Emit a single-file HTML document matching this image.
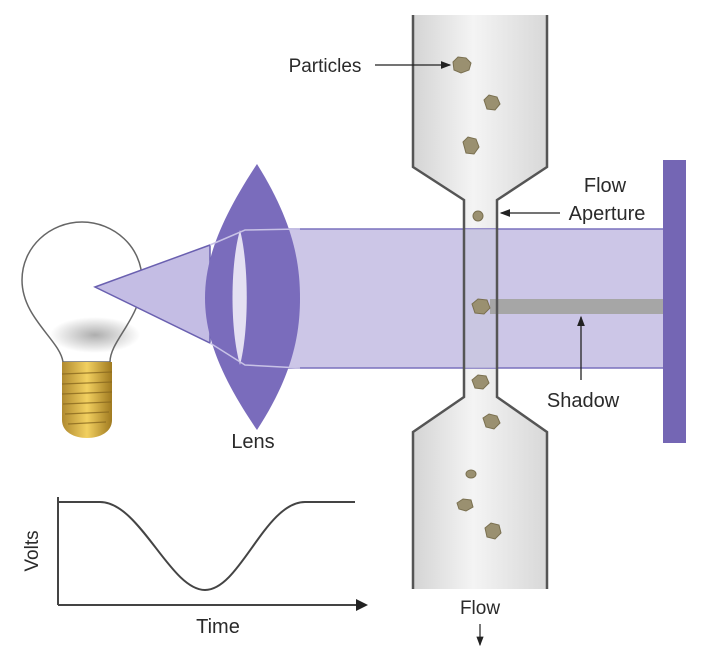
<!DOCTYPE html>
<html><head><meta charset="utf-8"><style>
html,body{margin:0;padding:0;background:#fff;}
svg{display:block;}
text{font-family:"Liberation Sans Narrow","Liberation Sans",sans-serif;fill:#2a2a2a;}
</style></head><body>
<svg width="710" height="650" viewBox="0 0 710 650" xmlns="http://www.w3.org/2000/svg">
<defs>
<linearGradient id="tube" x1="0" x2="1" y1="0" y2="0">
<stop offset="0" stop-color="#d4d4d4"/><stop offset="0.45" stop-color="#f4f4f4"/><stop offset="1" stop-color="#d8d8d8"/>
</linearGradient>
<linearGradient id="base" x1="0" x2="1"><stop offset="0" stop-color="#b08a30"/><stop offset="0.5" stop-color="#f2d060"/><stop offset="1" stop-color="#a07a20"/></linearGradient>
<radialGradient id="sh" cx="0.5" cy="0.5" r="0.5"><stop offset="0" stop-color="#999" stop-opacity="0.8"/><stop offset="1" stop-color="#999" stop-opacity="0"/></radialGradient>
<marker id="ar" markerWidth="8" markerHeight="8" refX="7" refY="4" orient="auto"><path d="M0,1 L8,4 L0,7 z" fill="#222"/></marker>
</defs>

<path d="M413,15 L413,167 L464,200 L464,397 L413,432 L413,589 L547,589 L547,432 L497,397 L497,200 L547,167 L547,15 Z" fill="url(#tube)"/>
<rect x="245" y="229" width="420" height="139" fill="#c9c3e6" opacity="0.95"/>
<line x1="245" y1="229" x2="665" y2="229" stroke="#7a70bd" stroke-width="1.5"/>
<line x1="245" y1="368" x2="665" y2="368" stroke="#7a70bd" stroke-width="1.5"/>
<rect x="464" y="229" width="33" height="139" fill="#c8c6de" opacity="0.7"/>
<rect x="490" y="299" width="175" height="15" fill="#a6a6a6"/>
<path d="M413,15 L413,167 L464,200 L464,397 L413,432 L413,589" fill="none" stroke="#555" stroke-width="2.5"/>
<path d="M547,15 L547,167 L497,200 L497,397 L547,432 L547,589" fill="none" stroke="#555" stroke-width="2.5"/>
<rect x="663" y="160" width="23" height="283" fill="#7466b4"/>

<g fill="#9a9070" stroke="#7a7050" stroke-width="1">
<path d="M453,62 L458,57 L466,58 L471,63 L469,70 L461,73 L454,70 Z"/>
<path d="M484,100 L489,95 L497,97 L500,104 L495,110 L487,109 Z"/>
<path d="M463,142 L468,137 L476,139 L479,147 L474,154 L466,153 Z"/>
<ellipse cx="478" cy="216" rx="5" ry="5"/>
<path d="M472,304 L478,299 L487,300 L490,308 L484,314 L475,313 Z"/>
<path d="M472,380 L478,375 L486,376 L489,383 L483,389 L475,388 Z"/>
<path d="M483,418 L489,414 L497,416 L500,423 L494,429 L486,427 Z"/>
<ellipse cx="471" cy="474" rx="5" ry="4"/>
<path d="M457,503 L463,499 L471,500 L473,507 L466,511 L459,509 Z"/>
<path d="M485,528 L491,523 L499,525 L501,533 L495,539 L487,537 Z"/>
</g>

<ellipse cx="95" cy="335" rx="45" ry="18" fill="url(#sh)"/>
<path d="M63,362 C60,340 22,318 22,280 C22,247 50,222 82,222 C114,222 142,247 142,280 C142,318 110,340 110,362 Z" fill="none" stroke="#666" stroke-width="1.5"/>
<path d="M62,362 L112,362 L112,420 C112,432 100,438 87,438 C74,438 62,432 62,420 Z" fill="url(#base)"/>
<g stroke="#8a6a20" stroke-width="1.2" opacity="0.8">
<line x1="62" y1="374" x2="112" y2="372"/><line x1="62" y1="384" x2="112" y2="382"/><line x1="62" y1="394" x2="112" y2="392"/><line x1="63" y1="404" x2="111" y2="402"/><line x1="65" y1="414" x2="109" y2="412"/><line x1="68" y1="424" x2="106" y2="422"/>
</g>
<path d="M95,287 L210,245 L210,343 Z" fill="#c4bde4" stroke="#6a60b0" stroke-width="1.5"/>
<path d="M257,164 C220,220 205,260 205,298 C205,336 220,376 257,430 C292,376 300,336 300,298 C300,260 292,220 257,164 Z" fill="#7a6cbc"/>
<path d="M240,230 C230,265 230,330 240,365 C249,330 249,265 240,230 Z" fill="#e4e0f2"/>
<path d="M210,245 L245,230 L300,229" fill="none" stroke="#c8c2e6" stroke-width="1.5"/>
<path d="M210,343 L245,365 L300,368" fill="none" stroke="#c8c2e6" stroke-width="1.5"/>

<line x1="58" y1="497" x2="58" y2="605" stroke="#444" stroke-width="2"/>
<line x1="58" y1="605" x2="358" y2="605" stroke="#444" stroke-width="2"/>
<path d="M356,599 L368,605 L356,611 Z" fill="#222"/>
<path d="M58,502 L100,502 C140,502 170,590 205,590 C240,590 265,502 305,502 L355,502" fill="none" stroke="#444" stroke-width="2"/>
<text x="0" y="0" font-size="19" transform="translate(38,551) rotate(-90)" text-anchor="middle">Volts</text>
<text x="218" y="633" font-size="20" text-anchor="middle">Time</text>

<text x="253" y="448" font-size="20" text-anchor="middle">Lens</text>
<text x="325" y="72" font-size="19" text-anchor="middle">Particles</text>
<line x1="375" y1="65" x2="450" y2="65" stroke="#222" stroke-width="1.3" marker-end="url(#ar)"/>
<text x="605" y="192" font-size="20" text-anchor="middle">Flow</text>
<text x="607" y="220" font-size="20" text-anchor="middle">Aperture</text>
<line x1="560" y1="213" x2="501" y2="213" stroke="#222" stroke-width="1.3" marker-end="url(#ar)"/>
<text x="583" y="407" font-size="20" text-anchor="middle">Shadow</text>
<line x1="581" y1="380" x2="581" y2="317" stroke="#222" stroke-width="1.3" marker-end="url(#ar)"/>
<text x="480" y="614" font-size="19" text-anchor="middle">Flow</text>
<line x1="480" y1="624" x2="480" y2="645" stroke="#222" stroke-width="1.2" marker-end="url(#ar)"/>
</svg>
</body></html>
